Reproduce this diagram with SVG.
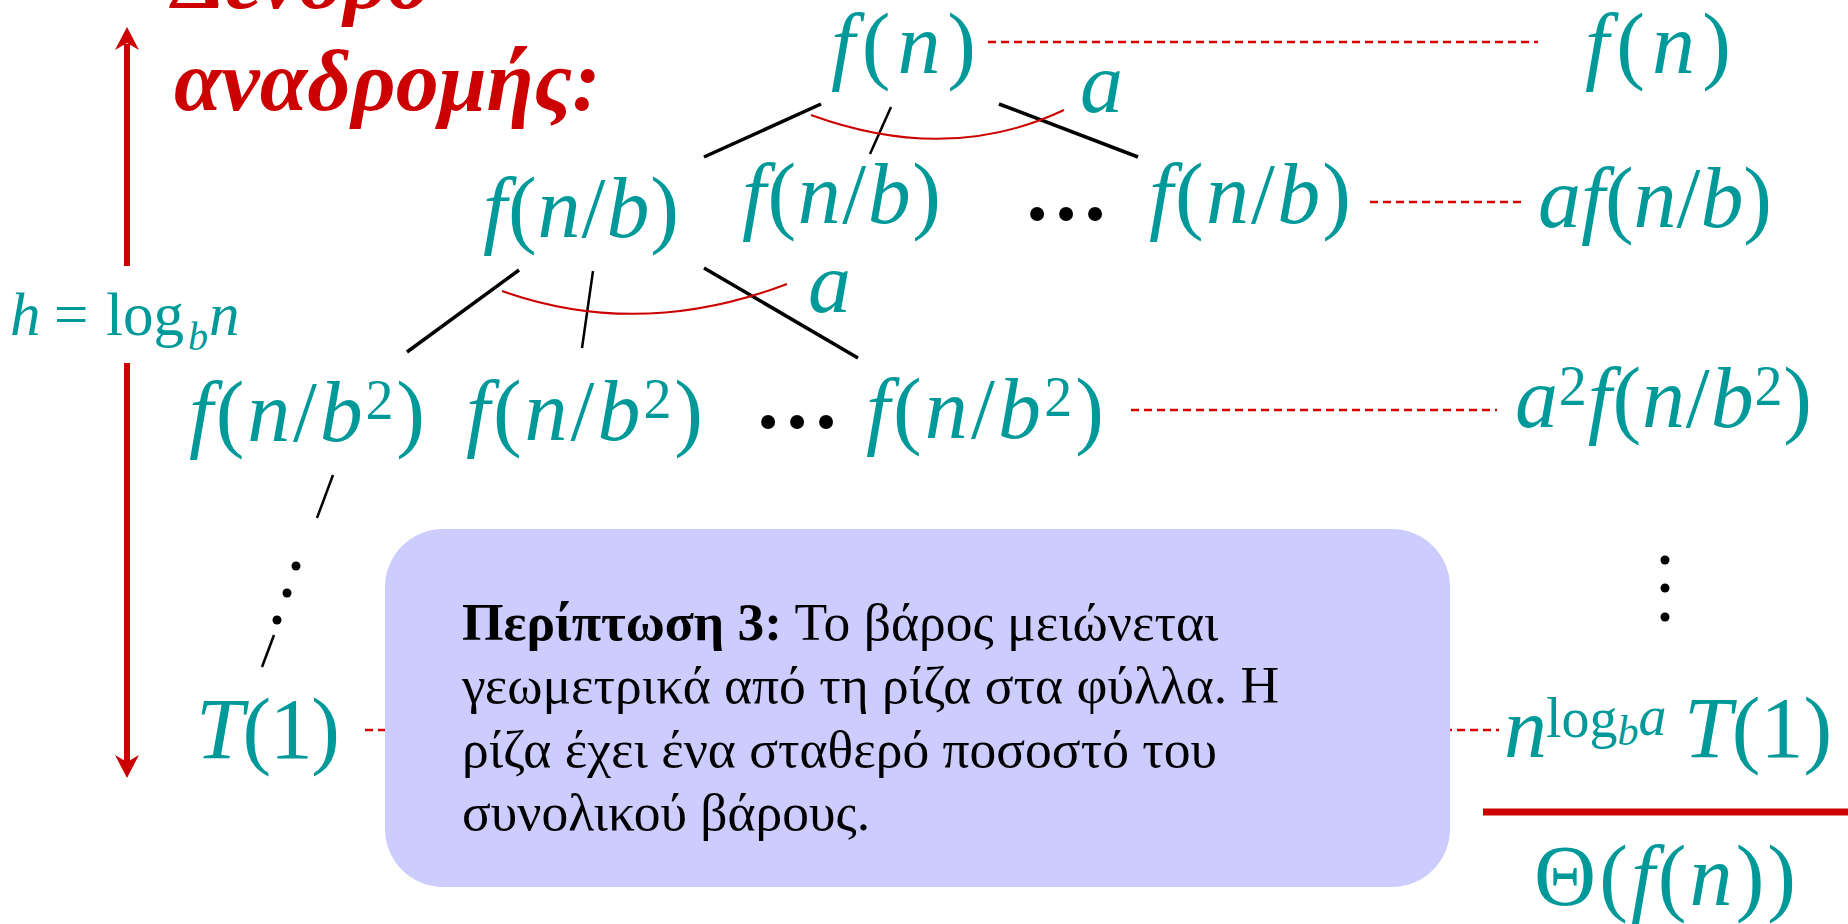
<svg xmlns="http://www.w3.org/2000/svg" width="1848" height="924" viewBox="0 0 1848 924">
<style>
.m{font-family:"Liberation Serif","Times New Roman",serif;font-size:86px;fill:#009999}
.i{font-style:italic}
.sup{font-size:56px}
.title{font-family:"Liberation Serif","Times New Roman",serif;font-size:86px;font-weight:bold;font-style:italic;fill:#CC0000}
.box{font-family:"Liberation Serif","Times New Roman",serif;font-size:53.5px;fill:#000}
.dots{font-family:"Liberation Serif","Times New Roman",serif;font-size:86px;font-weight:bold;fill:#000}
.tl{stroke:#000;stroke-width:3.5;fill:none}
.tm{stroke:#000;stroke-width:2.5;fill:none}
.arc{stroke:#CC0000;stroke-width:2;fill:none}
.dash{stroke:#DD0000;stroke-width:2.5;stroke-dasharray:8 5;fill:none}
</style>
<rect width="1848" height="924" fill="#fff"/>
<g id="connectors">
  <line class="dash" x1="988" y1="42" x2="1538" y2="42"/>
  <line class="dash" x1="1370" y1="202" x2="1526" y2="202"/>
  <line class="dash" x1="1131" y1="410" x2="1497" y2="410"/>
  <line class="dash" x1="365" y1="730" x2="1499" y2="730"/>
  <line class="tl" x1="704" y1="157" x2="821" y2="104"/>
  <line class="tm" x1="870" y1="154" x2="891" y2="107"/>
  <line class="tl" x1="999" y1="104" x2="1138" y2="157"/>
  <path class="arc" d="M811,115 Q948,165 1064,110"/>
  <line class="tl" x1="407" y1="352" x2="519" y2="270"/>
  <line class="tm" x1="582" y1="348" x2="593" y2="271"/>
  <line class="tl" x1="704" y1="268" x2="858" y2="358"/>
  <path class="arc" d="M502,291 Q640,340 787,284"/>
  <line class="tm" x1="333" y1="475" x2="317" y2="518"/>
  <line class="tm" x1="274" y1="635" x2="262" y2="667"/>
  <circle cx="296" cy="566" r="4.5" fill="#000"/>
  <circle cx="287" cy="593" r="4.5" fill="#000"/>
  <circle cx="277" cy="620" r="4.5" fill="#000"/>
  <circle cx="1665" cy="560" r="4.5" fill="#000"/>
  <circle cx="1665" cy="588" r="4.5" fill="#000"/>
  <circle cx="1665" cy="617" r="4.5" fill="#000"/>
  <line x1="127" y1="44" x2="127" y2="266" stroke="#CC0000" stroke-width="6"/>
  <line x1="127" y1="363" x2="127" y2="762" stroke="#CC0000" stroke-width="6"/>
  <polygon points="127,27 115,50 127,43 139,50" fill="#CC0000"/>
  <polygon points="127,778 115,755 127,762 139,755" fill="#CC0000"/>
  <line x1="1483" y1="812" x2="1848" y2="812" stroke="#CC0000" stroke-width="7"/>
</g>
<g id="title">
  <text class="title" x="172" y="8">Δένδρο</text>
  <text class="title" x="174" y="110">αναδρομής:</text>
</g>
<g id="height-label">
  <text class="m" style="font-size:61px" y="335"><tspan class="i" x="10">h</tspan><tspan x="54">=</tspan><tspan x="106">log</tspan><tspan class="i" x="188" y="350" style="font-size:40px">b</tspan><tspan class="i" x="209" y="335">n</tspan></text>
</g>
<g id="root"><text class="m" x="831" y="73" textLength="145" lengthAdjust="spacing"><tspan class="i">f</tspan>(<tspan class="i">n</tspan>)</text></g>
<g id="sum0"><text class="m" x="1585" y="73" textLength="146" lengthAdjust="spacing"><tspan class="i">f</tspan>(<tspan class="i">n</tspan>)</text></g>
<g id="label-a1"><text class="m i" x="1080" y="112">a</text></g>
<g id="l1a"><text class="m" x="483" y="237" textLength="196" lengthAdjust="spacing"><tspan class="i">f</tspan>(<tspan class="i">n</tspan>/<tspan class="i">b</tspan>)</text></g>
<g id="l1b"><text class="m" x="742" y="223" textLength="199" lengthAdjust="spacing"><tspan class="i">f</tspan>(<tspan class="i">n</tspan>/<tspan class="i">b</tspan>)</text></g>
<g id="l1dots"><text class="dots" x="1023" y="220">…</text></g>
<g id="l1c"><text class="m" x="1149" y="223" textLength="202" lengthAdjust="spacing"><tspan class="i">f</tspan>(<tspan class="i">n</tspan>/<tspan class="i">b</tspan>)</text></g>
<g id="sum1"><text class="m" x="1538" y="227" textLength="234" lengthAdjust="spacing"><tspan class="i">af</tspan>(<tspan class="i">n</tspan>/<tspan class="i">b</tspan>)</text></g>
<g id="label-a2"><text class="m i" x="808" y="312">a</text></g>
<g id="l2a"><text class="m" x="189" y="441" textLength="236" lengthAdjust="spacing"><tspan class="i">f</tspan>(<tspan class="i">n</tspan>/<tspan class="i">b</tspan><tspan class="sup" dy="-22">2</tspan><tspan dy="22">)</tspan></text></g>
<g id="l2b"><text class="m" x="466" y="440" textLength="237" lengthAdjust="spacing"><tspan class="i">f</tspan>(<tspan class="i">n</tspan>/<tspan class="i">b</tspan><tspan class="sup" dy="-22">2</tspan><tspan dy="22">)</tspan></text></g>
<g id="l2dots"><text class="dots" x="754" y="428">…</text></g>
<g id="l2c"><text class="m" x="866" y="438" textLength="238" lengthAdjust="spacing"><tspan class="i">f</tspan>(<tspan class="i">n</tspan>/<tspan class="i">b</tspan><tspan class="sup" dy="-22">2</tspan><tspan dy="22">)</tspan></text></g>
<g id="sum2"><text class="m" x="1515" y="427" textLength="297" lengthAdjust="spacing"><tspan class="i">a</tspan><tspan class="sup" dy="-22">2</tspan><tspan class="i" dy="22">f</tspan>(<tspan class="i">n</tspan>/<tspan class="i">b</tspan><tspan class="sup" dy="-22">2</tspan><tspan dy="22">)</tspan></text></g>
<g id="leaf"><text class="m" x="196" y="758" textLength="144" lengthAdjust="spacing"><tspan class="i">T</tspan>(1)</text></g>
<g id="note">
  <rect x="385" y="529" width="1065" height="358" rx="58" ry="58" fill="#CCCCFF"/>
  <text class="box" x="462" y="640"><tspan font-weight="bold">Περίπτωση 3:</tspan> Το βάρος μειώνεται</text>
  <text class="box" x="462" y="703">γεωμετρικά από τη ρίζα στα φύλλα. Η</text>
  <text class="box" x="462" y="767">ρίζα έχει ένα σταθερό ποσοστό του</text>
  <text class="box" x="462" y="830">συνολικού βάρους.</text>
</g>
<g id="sumleaf"><text class="m" y="757"><tspan class="i" x="1504">n</tspan><tspan class="sup" x="1546" y="737">log</tspan><tspan class="i" style="font-size:42px" y="745">b</tspan><tspan class="i sup" y="735">a</tspan><tspan class="i" x="1684" y="757">T</tspan>(1)</text></g>
<g id="total"><text class="m" x="1534" y="905" textLength="262" lengthAdjust="spacing">Θ(<tspan class="i">f</tspan>(<tspan class="i">n</tspan>))</text></g>
</svg>
